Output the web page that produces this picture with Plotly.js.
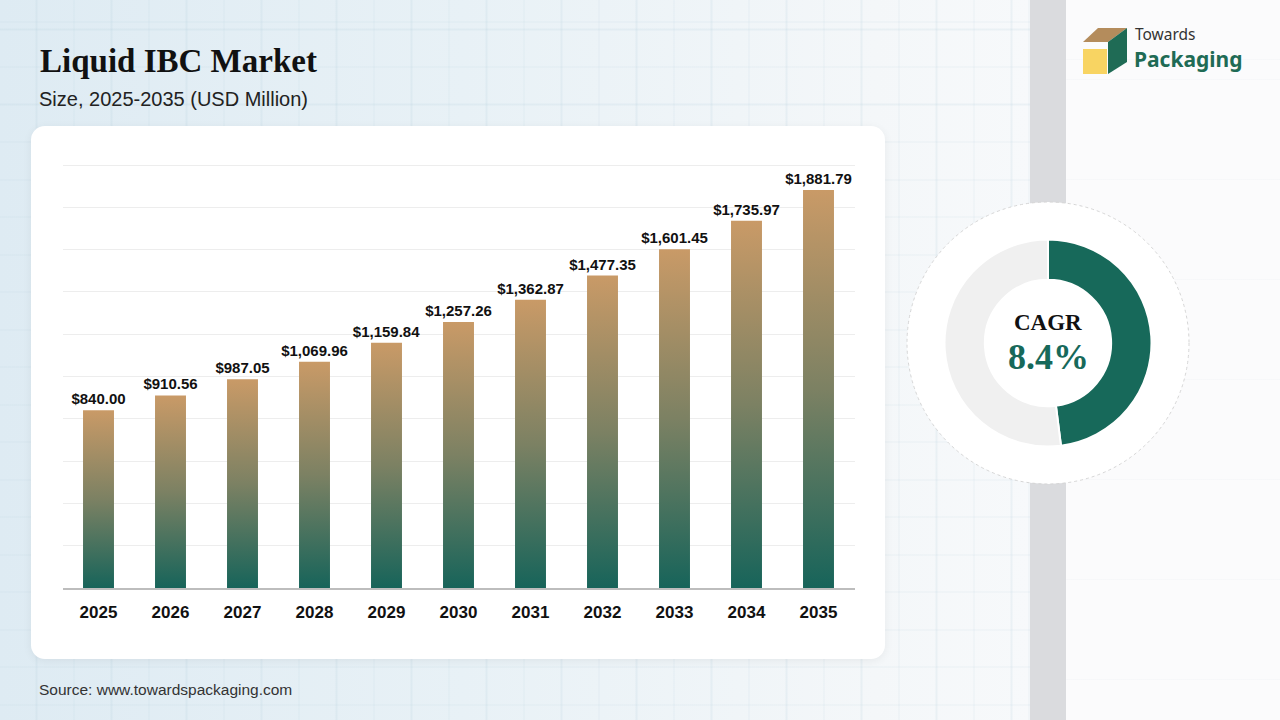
<!DOCTYPE html>
<html>
<head>
<meta charset="utf-8">
<script src="https://cdn.plot.ly/plotly-3.0.1.min.js"></script>
<style>
  html, body { margin: 0; padding: 0; }
  body {
    width: 1280px; height: 720px; overflow: hidden; position: relative;
    background-color: #f6f9fb;
  }
  #bg {
    position: absolute; left: 0; top: 0; width: 1030px; height: 720px;
    background:
      repeating-linear-gradient(90deg, rgba(170,200,215,0.16) 0 1px, transparent 1px 37.5px) -1.5px 0,
      repeating-linear-gradient(0deg, rgba(170,200,215,0.16) 0 1px, transparent 1px 37.5px) 0 22.5px,
      linear-gradient(90deg, #deebf3 0%, #e8f1f6 45%, #f4f7f9 85%, #f7f9fb 100%);
  }
  #stripe { position: absolute; left: 1030px; top: 0; width: 36px; height: 720px; background: #dadbde; }
  #right {
    position: absolute; left: 1066px; top: 0; width: 214px; height: 720px;
    background:
      repeating-linear-gradient(0deg, rgba(225,230,235,0.18) 0 1px, transparent 1px 100px) 0 60px,
      #fbfbfc;
  }
  #card {
    position: absolute; left: 31px; top: 126px; width: 854px; height: 533px;
    background: #fff; border-radius: 14px; box-shadow: 0 2px 10px rgba(0,0,0,0.06);
  }
  #chart { position: absolute; left: 0; top: 0; width: 1280px; height: 720px; }
</style>
</head>
<body>
<div id="bg"></div>
<div id="stripe"></div>
<div id="right"></div>
<div id="card"></div>
<div id="chart"></div>
<script>
"use strict"
// data
let years = ["2025", "2026", "2027", "2028", "2029", "2030", "2031", "2032", "2033", "2034", "2035"];
let market_size = [840.00, 910.56, 987.05, 1069.96, 1159.84, 1257.26, 1362.87, 1477.35, 1601.45, 1735.97, 1881.79];
let cagr_label = "8.4%";
let cagr_ring = [48, 52]; // green part, grey rest

const W = 1280, H = 720;
// pixel -> paper
function X(px) { return px / W; }
function Y(py) { return 1 - py / H; }

function money(v) {
    return "$" + v.toLocaleString("en-US", { minimumFractionDigits: 2, maximumFractionDigits: 2 });
}

let bars = {
    type: "bar",
    x: years,
    y: market_size,
    width: 0.43,
    marker: { color: "#7d8263" },
    text: market_size.map(money),
    textposition: "outside",
    constraintext: "none",
    textfont: { family: "Liberation Sans, Arial, sans-serif", size: 15, color: "#111", weight: "bold" },
    cliponaxis: false,
    hoverinfo: "skip",
    showlegend: false
};

let ring = {
    type: "pie",
    values: cagr_ring,
    marker: { colors: ["#17695a", "#f0f0f0"], line: { color: "#ffffff", width: 2 } },
    hole: 0.61,
    sort: false,
    direction: "clockwise",
    rotation: 0,
    textinfo: "none",
    hoverinfo: "skip",
    showlegend: false,
    domain: { x: [X(944.5), X(1151.5)], y: [Y(446.5), Y(239.5)] }
};

// logo icon pieces (pixel polygons)
function poly(pts) {
    return "M" + pts.map(p => X(p[0]) + "," + Y(p[1])).join("L") + "Z";
}

// the y axis tops out a little above 2000 so the 2000 gridline is drawn
let y_top = 2020;
let px_per_unit = (588 - 165) / 2000;

let layout = {
    width: W, height: H,
    margin: { l: 0, r: 0, t: 0, b: 0 },
    paper_bgcolor: "rgba(0,0,0,0)",
    plot_bgcolor: "rgba(0,0,0,0)",
    title: {
        text: "Liquid IBC Market",
        x: X(40), xanchor: "left", y: Y(60), yanchor: "middle",
        font: { family: "Liberation Serif, serif", size: 33, color: "#111", weight: "bold" }
    },
    xaxis: {
        domain: [X(62.5), X(854.5)],
        type: "category",
        showline: true, linecolor: "#bdbdbd", linewidth: 2,
        showgrid: false, zeroline: false, ticks: "",
        ticklabelstandoff: 8,
        tickfont: { family: "Liberation Sans, Arial, sans-serif", size: 17, color: "#111", weight: "bold" },
        fixedrange: true
    },
    yaxis: {
        domain: [Y(588), Y(588 - y_top * px_per_unit)],
        range: [0, y_top], tick0: 0, dtick: 200,
        showgrid: true, gridcolor: "#ededed", gridwidth: 1,
        showticklabels: false, zeroline: false, ticks: "",
        fixedrange: true
    },
    shapes: [
        {
            type: "circle", xref: "paper", yref: "paper",
            xsizemode: "pixel", ysizemode: "pixel",
            xanchor: X(1048), yanchor: Y(343),
            x0: -141, x1: 141, y0: -141, y1: 141,
            fillcolor: "#ffffff", line: { color: "#d6d6d6", width: 1, dash: "dot" },
            layer: "below"
        },
        { type: "path", xref: "paper", yref: "paper", path: poly([[1083, 42], [1098, 28], [1127, 28], [1108, 42]]), fillcolor: "#b48c5c", line: { width: 0 } },
        { type: "path", xref: "paper", yref: "paper", path: poly([[1108, 42], [1127, 28], [1127, 62], [1108, 74]]), fillcolor: "#1f6b55", line: { width: 0 } },
        { type: "path", xref: "paper", yref: "paper", path: poly([[1083, 49], [1107, 49], [1107, 74], [1083, 74]]), fillcolor: "#f8d462", line: { width: 0 } }
    ],
    annotations: [
        {
            text: "Size, 2025-2035 (USD Million)", xref: "paper", yref: "paper",
            x: X(37), xanchor: "left", y: Y(99), yanchor: "middle", showarrow: false,
            font: { family: "Liberation Sans, Arial, sans-serif", size: 20, color: "#222" }
        },
        {
            text: "Source: www.towardspackaging.com", xref: "paper", yref: "paper",
            x: X(37), xanchor: "left", y: Y(689), yanchor: "middle", showarrow: false,
            font: { family: "Liberation Sans, Arial, sans-serif", size: 15.5, color: "#333" }
        },
        {
            text: "CAGR", xref: "paper", yref: "paper",
            x: X(1048), xanchor: "center", y: Y(322), yanchor: "middle", showarrow: false,
            font: { family: "Liberation Serif, serif", size: 23, color: "#111", weight: "bold" }
        },
        {
            text: cagr_label, xref: "paper", yref: "paper",
            x: X(1048), xanchor: "center", y: Y(357), yanchor: "middle", showarrow: false,
            font: { family: "Liberation Serif, serif", size: 36, color: "#17695a", weight: "bold" }
        },
        {
            text: "Towards", xref: "paper", yref: "paper",
            x: X(1133), xanchor: "left", y: Y(34), yanchor: "middle", showarrow: false,
            font: { family: "Noto Sans, sans-serif", size: 15.5, color: "#333" }
        },
        {
            text: "Packaging", xref: "paper", yref: "paper",
            x: X(1132), xanchor: "left", y: Y(59), yanchor: "middle", showarrow: false,
            font: { family: "Noto Sans, sans-serif", size: 21, color: "#1f6b55", weight: "bold" }
        }
    ]
};

// bar fill: tan at the top of each bar, teal at its base
function paintBars(gd) {
    let svg = gd.querySelector(".main-svg");
    let defs = svg.querySelector("defs");
    let ns = "http://www.w3.org/2000/svg";
    let grad = document.createElementNS(ns, "linearGradient");
    grad.setAttribute("id", "barGrad");
    grad.setAttribute("x1", "0"); grad.setAttribute("y1", "0");
    grad.setAttribute("x2", "0"); grad.setAttribute("y2", "1");
    [["0", "#c99a67"], ["0.5", "#7c8163"], ["1", "#17645a"]].forEach(s => {
        let st = document.createElementNS(ns, "stop");
        st.setAttribute("offset", s[0]);
        st.setAttribute("stop-color", s[1]);
        grad.appendChild(st);
    });
    defs.appendChild(grad);
    gd.querySelectorAll(".bars .point path").forEach(p => {
        p.style.fill = "url(#barGrad)";
    });
}

Plotly.newPlot("chart", [bars, ring], layout, { displayModeBar: false, staticPlot: true })
    .then(paintBars);
</script>
</body>
</html>
